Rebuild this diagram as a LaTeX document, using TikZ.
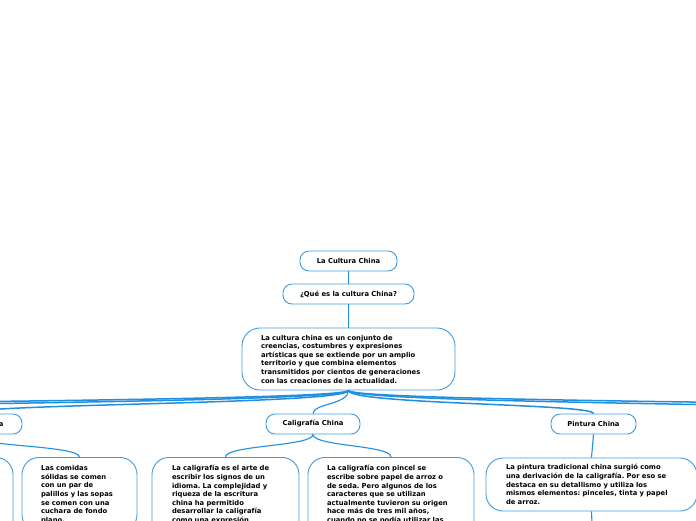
\documentclass[tikz,border=0pt]{standalone}
\usepackage{fontspec}
\setmainfont{DejaVu Sans}
\frenchspacing
\definecolor{linec}{HTML}{1F8FE0}
\definecolor{bordc}{HTML}{3C9CE2}
\tikzset{
  box/.style={draw=bordc, line width=0.9pt, fill=white, inner sep=0pt,
    font=\fontsize{6.8}{8.6}\selectfont\bfseries\frenchspacing},
  smallbox/.style={box, rounded corners=9pt, minimum height=20pt, align=center},
  textbox/.style={box, rounded corners=17pt, align=left, inner xsep=19pt},
  conn/.style={draw=linec, line width=1.1pt},
  bus/.style={draw=linec, line width=1.5pt}
}
\begin{document}
\begin{tikzpicture}[x=1pt,y=-1pt]
\useasboundingbox (0,0) rectangle (696,520);
\fill[white] (0,0) rectangle (696,520);
\clip (0,0) rectangle (696,520);

\node[smallbox, minimum width=97pt] (root) at (348.5,261) {La Cultura China};
\node[smallbox, minimum width=131pt] (q) at (348.5,294) {¿Qué es la cultura China?};
\node[textbox, text width=175pt, minimum height=62pt, rounded corners=18pt] (def) at (348.5,359)
 {La cultura china es un conjunto de\\
  creencias, costumbres y expresiones\\
  artísticas que se extiende por un amplio\\
  territorio y que combina elementos\\
  transmitidos por cientos de generaciones\\
  con las creaciones de la actualidad.};

\node[smallbox, minimum width=110pt] (gas) at (-33,424) {Gastronomía China};
\node[smallbox, minimum width=94pt] (cal) at (313,424) {Caligrafía China};
\node[smallbox, minimum width=85pt] (pin) at (593.5,424) {Pintura China};

\coordinate (l1) at (-380,414);
\coordinate (l2) at (-760,414);
\coordinate (r1) at (960,414);
\coordinate (r2) at (1300,414);

\node[box, rounded corners=17pt, minimum width=150pt, minimum height=90pt, anchor=north] (g1) at (-62,457) {};
\node[textbox, text width=77pt, anchor=north, inner ysep=8pt] (g2) at (79.5,457)
 {Las comidas\\ sólidas se comen\\ con un par de\\ palillos y las sopas\\ se comen con una\\ cuchara de fondo\\ plano.};
\node[textbox, text width=107pt, anchor=north, inner ysep=8pt, inner xsep=20pt] (c1) at (225.5,457)
 {La caligrafía es el arte de\\ escribir los signos de un\\ idioma. La complejidad y\\ riqueza de la escritura\\ china ha permitido\\ desarrollar la caligrafía\\ como una expresión\\ artística.};
\node[textbox, text width=128pt, anchor=north, inner ysep=8pt] (c2) at (391,457)
 {La caligrafía con pincel se\\ escribe sobre papel de arroz o\\ de seda. Pero algunos de los\\ caracteres que se utilizan\\ actualmente tuvieron su origen\\ hace más de tres mil años,\\ cuando no se podía utilizar las\\ herramientas.};
\node[textbox, text width=171pt, minimum height=53pt, inner xsep=20pt] (p1) at (591.5,484.5)
 {La pintura tradicional china surgió como\\ una derivación de la caligrafía. Por eso se\\ destaca en su detallismo y utiliza los\\ mismos elementos: pinceles, tinta y papel\\ de arroz.};
\coordinate (p2) at (593.5,560);

\draw[conn] (root) -- (q);
\draw[conn] (q) -- (def);

\foreach \t in {l2,l1,r1,r2} {
  \draw[bus] (def.south) .. controls +(0,14) and +(0,-10) .. (\t);
}
\draw[bus] (def.south) .. controls +(0,14) and +(0,-10) .. (gas.north);
\draw[bus] (def.south) .. controls +(0,14) and +(0,-10) .. (pin.north);
\draw[conn] (def.south) .. controls +(0,14) and +(0,-10) .. (cal.north);

\draw[conn] (gas.south) .. controls +(0,12) and +(0,-12) .. (g1.north);
\draw[conn] (gas.south) .. controls +(0,12) and +(0,-12) .. (g2.north);
\draw[conn] (cal.south) .. controls +(0,12) and +(0,-12) .. (c1.north);
\draw[conn] (cal.south) .. controls +(0,12) and +(0,-12) .. (c2.north);
\draw[conn] (pin.south) -- (p1.north);
\draw[conn] (p1.south) -- (p2);
\end{tikzpicture}
\end{document}
